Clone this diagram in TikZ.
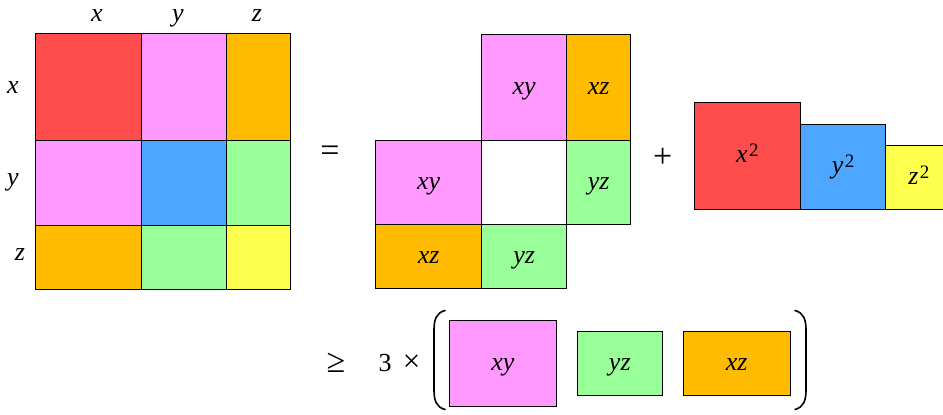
\documentclass[tikz,border=0pt]{standalone}
\usepackage{fontspec}
\setmainfont{Liberation Serif}
\definecolor{cred}{RGB}{255,77,77}
\definecolor{cpink}{RGB}{255,153,255}
\definecolor{corange}{RGB}{255,187,0}
\definecolor{cblue}{RGB}{77,166,255}
\definecolor{cgreen}{RGB}{153,255,153}
\definecolor{cyellow}{RGB}{255,255,77}
\newcommand{\cellbox}[7]{\node[cell, fill=#6, minimum width={#4-#2}, minimum height={#5-#3}] (#1) at ({(#2+#4)/2},{(#3+#5)/2}) {#7};}
\newcommand{\sq}[1]{#1\kern1.5pt\raisebox{6pt}{\fontsize{19}{21}\selectfont\upshape 2}}
\begin{document}
\begin{tikzpicture}[x=1pt,y=-1pt,
  cell/.style={draw=black, line width=1pt, rectangle, inner sep=0pt, outer sep=0pt, text height=14pt, text depth=0pt, font=\fontsize{26}{30}\selectfont\itshape},
  lab/.style={inner sep=0pt, font=\fontsize{26}{30}\selectfont\itshape},
  sym/.style={inner sep=0pt, font=\fontsize{26}{30}\selectfont},
  bigsym/.style={inner sep=0pt, font=\fontsize{34}{38}\selectfont},
  paren/.style={line width=1.6pt, line cap=round}]
\useasboundingbox (0,0) rectangle (943,415);
% left grid
\cellbox{Lxx}{35.3}{33.3}{141.5}{140}{cred}{}
\cellbox{Lxy}{141.5}{33.3}{226.7}{140}{cpink}{}
\cellbox{Lxz}{226.7}{33.3}{290.7}{140}{corange}{}
\cellbox{Lyx}{35.3}{140}{141.5}{225.3}{cpink}{}
\cellbox{Lyy}{141.5}{140}{226.7}{225.3}{cblue}{}
\cellbox{Lyz}{226.7}{140}{290.7}{225.3}{cgreen}{}
\cellbox{Lzx}{35.3}{225.3}{141.5}{289}{corange}{}
\cellbox{Lzy}{141.5}{225.3}{226.7}{289}{cgreen}{}
\cellbox{Lzz}{226.7}{225.3}{290.7}{289}{cyellow}{}
% labels
\node[lab, anchor=base] (tx) at (97,21) {x};
\node[lab, anchor=base] (ty) at (178,21) {y};
\node[lab, anchor=base] (tz) at (257,21) {z};
\node[lab] (lx) at (13,88) {x};
\node[lab] (ly) at (13,182) {y};
\node[lab] (lz) at (20,255) {z};
% equals
\node[bigsym] (eq) at (330,154) {=};
% middle figure
\cellbox{Mxy1}{481.7}{34}{566.7}{140}{cpink}{xy}
\cellbox{Mxz1}{566.7}{34}{630.5}{140}{corange}{xz}
\cellbox{Mxy2}{375.7}{140}{481.7}{224.7}{cpink}{xy}
\cellbox{Mhole}{481.7}{140}{566.7}{224.7}{white}{}
\cellbox{Myz1}{566.7}{140}{630.5}{224.7}{cgreen}{yz}
\cellbox{Mxz2}{375.7}{224.7}{481.7}{288.5}{corange}{xz}
\cellbox{Myz2}{481.7}{224.7}{566.7}{288.5}{cgreen}{yz}
% plus
\node[bigsym] (plus) at (662.7,157.7) {+};
% squares
\cellbox{Sx}{694}{102.7}{800.7}{209}{cred}{\sq{x}}
\cellbox{Sy}{800.7}{124}{885.7}{209}{cblue}{\sq{y}}
\cellbox{Sz}{885.7}{145.7}{952}{209}{cyellow}{\sq{z}}
% bottom
\node[bigsym] (geq) at (336,363) {≥};
\node[sym] (three) at (385,363) {3};
\node[inner sep=0pt, font=\fontsize{31}{34}\selectfont] (times) at (411.7,363) {×};
\cellbox{Bxy}{449.7}{320.7}{556}{406}{cpink}{xy}
\cellbox{Byz}{577.3}{331.7}{662.3}{395.3}{cgreen}{yz}
\cellbox{Bxz}{683.3}{331.7}{790}{395.3}{corange}{xz}
\draw[paren] (445,310.5) .. controls (436,313) and (434,320) .. (434,330) -- (434,390) .. controls (434,400) and (436,407) .. (445,409.5);
\draw[paren] (795,310.5) .. controls (804,313) and (806,320) .. (806,330) -- (806,390) .. controls (806,400) and (804,407) .. (795,409.5);
\end{tikzpicture}
\end{document}
